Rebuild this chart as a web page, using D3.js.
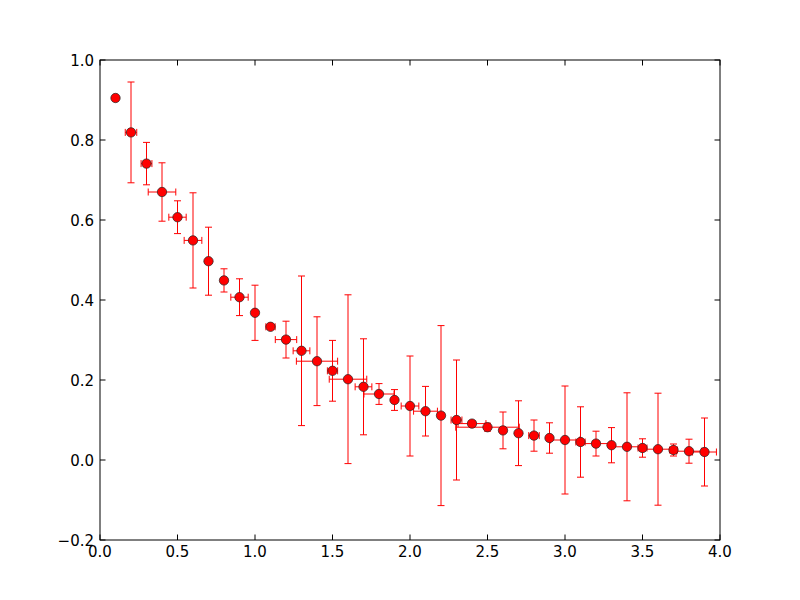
<!DOCTYPE html>
<html>
<head>
<meta charset="utf-8">
<script src="https://cdn.jsdelivr.net/npm/d3@7"></script>
<style>
html,body{margin:0;padding:0;background:#fff;}
svg{display:block;}
text{font-family:"DejaVu Sans",sans-serif;}
</style>
</head>
<body>
<svg id="chart" width="800" height="600"></svg>
<script>
const xValues = [0.1,0.2,0.3,0.4,0.5,0.6,0.7,0.8,0.9,1.0,1.1,1.2,1.3,1.4,1.5,1.6,1.7,1.8,1.9,2.0,2.1,2.2,2.3,2.4,2.5,2.6,2.7,2.8,2.9,3.0,3.1,3.2,3.3,3.4,3.5,3.6,3.7,3.8,3.9];
const yValues = [0.905,0.819,0.741,0.670,0.607,0.549,0.497,0.449,0.407,0.368,0.333,0.301,0.273,0.247,0.223,0.202,0.183,0.165,0.150,0.135,0.122,0.111,0.100,0.091,0.082,0.074,0.067,0.061,0.055,0.050,0.045,0.041,0.037,0.033,0.030,0.027,0.025,0.022,0.020];
const yErrors = [0.005,0.126,0.053,0.073,0.041,0.119,0.085,0.029,0.046,0.069,0.006,0.046,0.187,0.111,0.076,0.211,0.120,0.026,0.026,0.125,0.062,0.225,0.150,0.005,0.010,0.046,0.081,0.039,0.038,0.135,0.088,0.031,0.044,0.135,0.023,0.140,0.015,0.030,0.085];
const xErrors = [0.005,0.037,0.035,0.089,0.056,0.057,0.012,0.010,0.056,0.008,0.030,0.069,0.054,0.133,0.033,0.121,0.054,0.097,0.010,0.057,0.077,0.010,0.035,0.090,0.205,0.010,0.010,0.034,0.010,0.095,0.030,0.100,0.010,0.100,0.029,0.100,0.026,0.080,0.077];
const xTicks = [0.0,0.5,1.0,1.5,2.0,2.5,3.0,3.5,4.0];
const yTicks = [-0.2,0.0,0.2,0.4,0.6,0.8,1.0];

const data = xValues.map((x,i)=>({x, y:yValues[i], ye:yErrors[i], xe:xErrors[i]}));

const svg = d3.select("#chart");
const L=100, R=720, T=60, B=540;
const x = d3.scaleLinear().domain([0,4]).range([L,R]);
const y = d3.scaleLinear().domain([-0.2,1.0]).range([B,T]);
const fmt = d3.format(".1f");
const tickLen = 5.5;
const fs = 15;

const plot = svg.append("g");
const cap = 3.5;
const bars = plot.append("g").attr("stroke","#ff0000").attr("stroke-width",1).attr("fill","none");
data.forEach(d=>{
  const cx=x(d.x), cy=y(d.y);
  bars.append("line").attr("x1",cx).attr("x2",cx).attr("y1",y(d.y+d.ye)).attr("y2",y(d.y-d.ye));
  bars.append("line").attr("x1",cx-cap).attr("x2",cx+cap).attr("y1",y(d.y+d.ye)).attr("y2",y(d.y+d.ye));
  bars.append("line").attr("x1",cx-cap).attr("x2",cx+cap).attr("y1",y(d.y-d.ye)).attr("y2",y(d.y-d.ye));
  bars.append("line").attr("x1",x(d.x-d.xe)).attr("x2",x(d.x+d.xe)).attr("y1",cy).attr("y2",cy);
  bars.append("line").attr("x1",x(d.x-d.xe)).attr("x2",x(d.x-d.xe)).attr("y1",cy-cap).attr("y2",cy+cap);
  bars.append("line").attr("x1",x(d.x+d.xe)).attr("x2",x(d.x+d.xe)).attr("y1",cy-cap).attr("y2",cy+cap);
});

plot.append("g").selectAll("circle").data(data).join("circle")
  .attr("cx",d=>x(d.x)).attr("cy",d=>y(d.y)).attr("r",4.7)
  .attr("fill","#ff0000").attr("stroke","#222").attr("stroke-width",0.7);

svg.append("rect").attr("x",L).attr("y",T).attr("width",R-L).attr("height",B-T)
  .attr("fill","none").attr("stroke","#000").attr("stroke-width",1);

const tg = svg.append("g").attr("stroke","#000").attr("stroke-width",1);
xTicks.forEach(t=>{
  const px=x(t);
  tg.append("line").attr("x1",px).attr("x2",px).attr("y1",B).attr("y2",B-tickLen);
  tg.append("line").attr("x1",px).attr("x2",px).attr("y1",T).attr("y2",T+tickLen);
});
yTicks.forEach(t=>{
  const py=y(t);
  tg.append("line").attr("x1",L).attr("x2",L+tickLen).attr("y1",py).attr("y2",py);
  tg.append("line").attr("x1",R).attr("x2",R-tickLen).attr("y1",py).attr("y2",py);
});

svg.append("g").selectAll("text").data(xTicks).join("text")
  .attr("x",d=>x(d)).attr("y",B+17).attr("text-anchor","middle")
  .attr("font-size",fs).attr("fill","#000").text(d=>fmt(d));
svg.append("g").selectAll("text").data(yTicks).join("text")
  .attr("x",L-6).attr("y",d=>y(d)+5.5).attr("text-anchor","end")
  .attr("font-size",fs).attr("fill","#000").text(d=>fmt(d));
</script>
</body>
</html>
